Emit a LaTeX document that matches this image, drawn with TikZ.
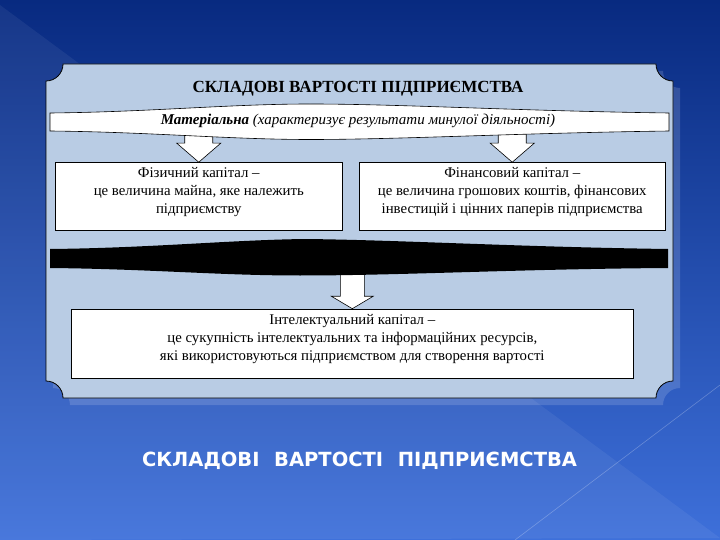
\documentclass[tikz,border=0pt]{standalone}
\usepackage{fontspec}
\setmainfont{Liberation Serif}
\newfontfamily\slidefont{DejaVu Sans}
\usetikzlibrary{positioning}

\definecolor{slidetop}{RGB}{8,42,128}
\definecolor{slidemid}{RGB}{26,76,180}
\definecolor{slidebottom}{RGB}{62,112,218}
\definecolor{panelblue}{RGB}{185,204,228}

\begin{document}
\begin{tikzpicture}[x=1pt, y=-1pt,
        panel/.style={fill=panelblue, draw=black, line width=0.8pt},
        whitebox/.style={rectangle, draw, fill=white, line width=0.6pt, minimum height=67.5pt, inner sep=0pt},
        boxtext/.style={align=center, inner sep=0pt, font=\fontsize{14.8}{18}\selectfont},
        blockarrow/.style={draw, fill=white, line width=0.6pt, line join=miter},
        ribbon/.style={fill=white, draw=black, line width=0.6pt}
    ]

    % Slide background
    \shade[top color=slidetop, middle color=slidemid, bottom color=slidebottom] (0,0) rectangle (720,540);
    \useasboundingbox (0,0) rectangle (720,540);
    \fill[white, opacity=0.06] (0,5) -- (720,538) -- (0,540) -- cycle;
    \draw[white, opacity=0.25, line width=0.6pt] (720,385) -- (515,540);

    % Panel (shadow, then panel)
    \fill[white, opacity=0.15, shift={(7,7)}] (63,64) -- (656,64) .. controls (656,73.4) and (663.6,81) .. (673,81) -- (673,381) .. controls (663.6,381) and (656,388.6) .. (656,398) -- (63,398) .. controls (63,388.6) and (55.4,381) .. (46,381) -- (46,81) .. controls (55.4,81) and (63,73.4) .. (63,64) -- cycle;
    \draw[panel] (63,64) -- (656,64) .. controls (656,73.4) and (663.6,81) .. (673,81) -- (673,381) .. controls (663.6,381) and (656,388.6) .. (656,398) -- (63,398) .. controls (63,388.6) and (55.4,381) .. (46,381) -- (46,81) .. controls (55.4,81) and (63,73.4) .. (63,64) -- cycle;

    % Title
    \node[font=\bfseries\fontsize{17}{19}\selectfont] (title) at (358,89) {СКЛАДОВІ ВАРТОСТІ ПІДПРИЄМСТВА};

    % Boxes
    \node[whitebox, minimum width=287.5pt] (fizbox) at (198.75,196.25) {};
    \node[whitebox, minimum width=305.5pt] (finbox) at (512.25,196.25) {};
    \node[whitebox, minimum width=562.5pt, minimum height=69pt] (intbox) at (352.3,343.5) {};

    % Arrows (under the ribbons)
    \draw[blockarrow] (fizbox.north) -- ++(-22,-19) -- ++(8,0) -- ++(0,-14) -- ++(28,0) -- ++(0,14) -- ++(8,0) -- cycle;
    \draw[blockarrow] (finbox.north) -- ++(-22,-19) -- ++(8,0) -- ++(0,-14) -- ++(28,0) -- ++(0,14) -- ++(8,0) -- cycle;
    \draw[blockarrow] (intbox.north) -- ++(-21,-12.5) -- ++(9,0) -- ++(0,-28) -- ++(24,0) -- ++(0,28) -- ++(9,0) -- cycle;

    % Ribbon "Матеріальна"
    \draw[ribbon] (50,113) .. controls (150,112) and (230,104) .. (310,104) .. controls (400,104) and (520,111) .. (669,113) -- (669,131) .. controls (520,133) and (400,139.5) .. (310,139.5) .. controls (230,139.5) and (150,132) .. (50,131) -- cycle;
    \node[font=\itshape\fontsize{15}{17}\selectfont] (mattext) at (358,121) {\textbf{Матеріальна} (характеризує результати минулої діяльності)};

    % Black ribbon
    \fill[black] (50,249) .. controls (150,248) and (230,240) .. (305,239) .. controls (400,240) and (520,247) .. (668,249) -- (668,268) .. controls (520,269) and (400,275.5) .. (300,275.5) .. controls (220,275.5) and (150,269) .. (50,268) -- cycle;

    % Box texts
    \node[boxtext, below=5pt of fizbox.north] (fiztext) {Фізичний капітал –\\це величина майна, яке належить\\підприємству};
    \node[boxtext, below=5pt of finbox.north] (fintext) {Фінансовий капітал –\\це величина грошових коштів, фінансових\\інвестицій і цінних паперів підприємства};
    \node[boxtext, below=5pt of intbox.north] (inttext) {Інтелектуальний капітал –\\це сукупність інтелектуальних та інформаційних ресурсів,\\які використовуються підприємством для створення вартості};

    % Caption
    \node[font=\slidefont\bfseries\fontsize{19.5}{22}\selectfont, text=white] (caption) at (359.5,461) {СКЛАДОВІ\hspace{0.75em}ВАРТОСТІ\hspace{0.75em}ПІДПРИЄМСТВА};

\end{tikzpicture}
\end{document}
